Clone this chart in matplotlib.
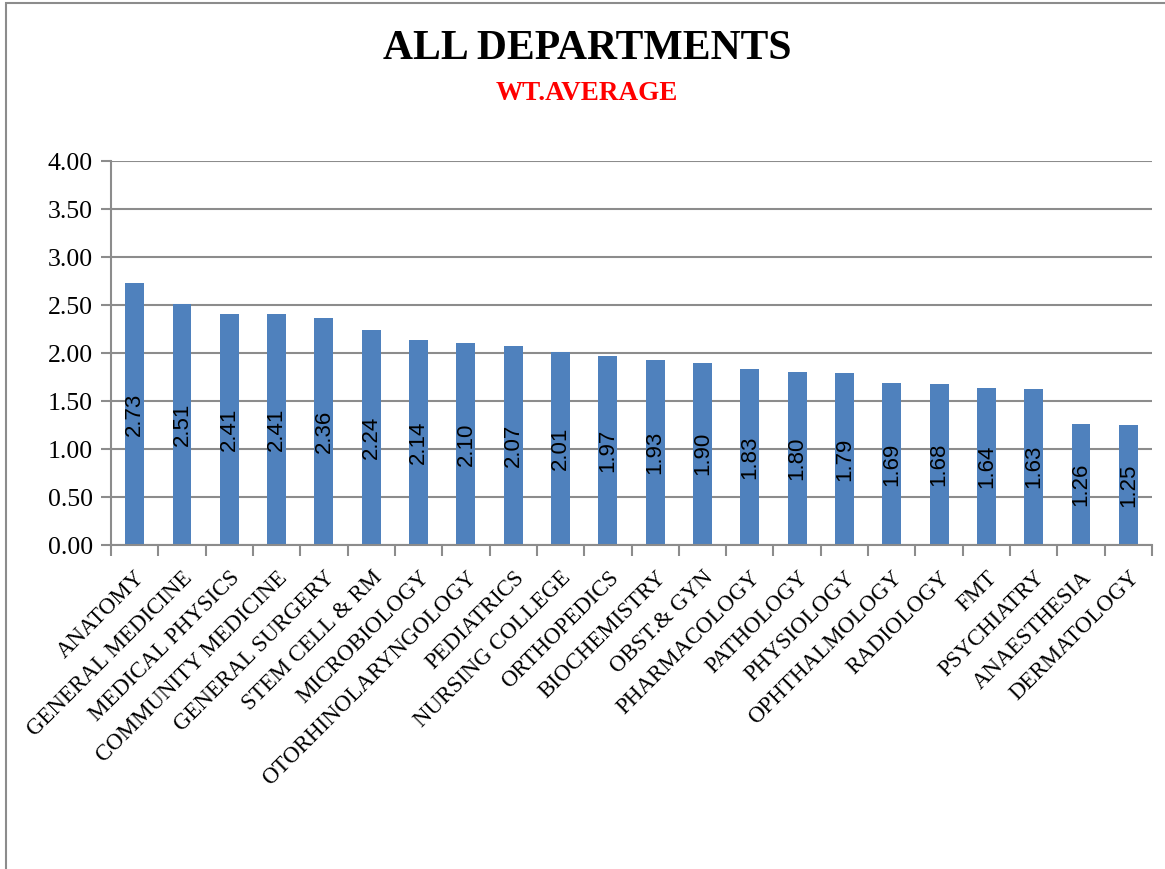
import matplotlib
matplotlib.use("Agg")
import matplotlib.pyplot as plt
from matplotlib.patches import Rectangle

departments = ["ANATOMY", "GENERAL MEDICINE", "MEDICAL PHYSICS", "COMMUNITY MEDICINE",
               "GENERAL SURGERY", "STEM CELL & RM", "MICROBIOLOGY", "OTORHINOLARYNGOLOGY",
               "PEDIATRICS", "NURSING COLLEGE", "ORTHOPEDICS", "BIOCHEMISTRY", "OBST.& GYN",
               "PHARMACOLOGY", "PATHOLOGY", "PHYSIOLOGY", "OPHTHALMOLOGY", "RADIOLOGY",
               "FMT", "PSYCHIATRY", "ANAESTHESIA", "DERMATOLOGY"]
wt_average = [2.73, 2.51, 2.41, 2.41, 2.36, 2.24, 2.14, 2.10, 2.07, 2.01, 1.97,
              1.93, 1.90, 1.83, 1.80, 1.79, 1.69, 1.68, 1.64, 1.63, 1.26, 1.25]
y_ticks = [0.0, 0.5, 1.0, 1.5, 2.0, 2.5, 3.0, 3.5, 4.0]

SERIF = ["Liberation Serif", "DejaVu Serif"]
SANS = ["Liberation Sans", "DejaVu Sans"]
GRID = "#8c8c8c"
BAR = "#4F81BD"

fig = plt.figure(figsize=(11.65, 8.69), dpi=100)
W, H = 1165, 869
ax = fig.add_axes([111 / W, 1 - 545 / H, (1152 - 111) / W, (545 - 161) / H])

x = list(range(len(departments)))
bars = ax.bar(x, wt_average, width=0.4, color=BAR, zorder=3)
ax.set_xlim(-0.5, len(departments) - 0.5)
ax.set_ylim(0, 4)
ax.set_yticks(y_ticks)
ax.set_yticklabels([f"{v:.2f}" for v in y_ticks], family=SERIF, fontsize=18.5)
ax.yaxis.grid(True, color=GRID, linewidth=1.5, zorder=0)
ax.set_axisbelow(True)

for s in ["top", "right"]:
    ax.spines[s].set_visible(False)
for s in ["left", "bottom"]:
    ax.spines[s].set_color(GRID)
    ax.spines[s].set_linewidth(1.5)
    ax.spines[s].set_zorder(4)

ax.tick_params(axis="y", length=7, width=1.5, color=GRID, pad=6)
# category ticks at boundaries
ax.set_xticks([i - 0.5 for i in range(len(departments) + 1)], minor=False)
ax.set_xticklabels([])
ax.tick_params(axis="x", which="major", length=8, width=1.5, color=GRID)
ax.set_xticks(x, minor=True)
ax.set_xticklabels(departments, minor=True, rotation=45, ha="right",
                   rotation_mode="anchor", family=SERIF, fontsize=16.5)
ax.tick_params(axis="x", which="minor", length=0, pad=16)

for xi, v in zip(x, wt_average):
    ax.text(xi, v / 2, f"{v:.2f}", rotation=90, ha="center", va="center",
            family=SANS, fontsize=16, color="black", zorder=5)

fig.text(587 / W, 1 - 49 / H, "ALL DEPARTMENTS", ha="center", va="center",
         family=SERIF, fontsize=30, fontweight="bold", color="black")
fig.text(587 / W, 1 - 94 / H, "WT.AVERAGE", ha="center", va="center",
         family=SERIF, fontsize=19.5, fontweight="bold", color="#ff0000")

fig.patches.append(Rectangle((6 / W, -0.05), 1.2, 1 - 3 / H + 0.05,
                             transform=fig.transFigure, fill=False,
                             edgecolor="#8c8c8c", linewidth=1.5))

fig.savefig("out.png", dpi=100, facecolor="white")
